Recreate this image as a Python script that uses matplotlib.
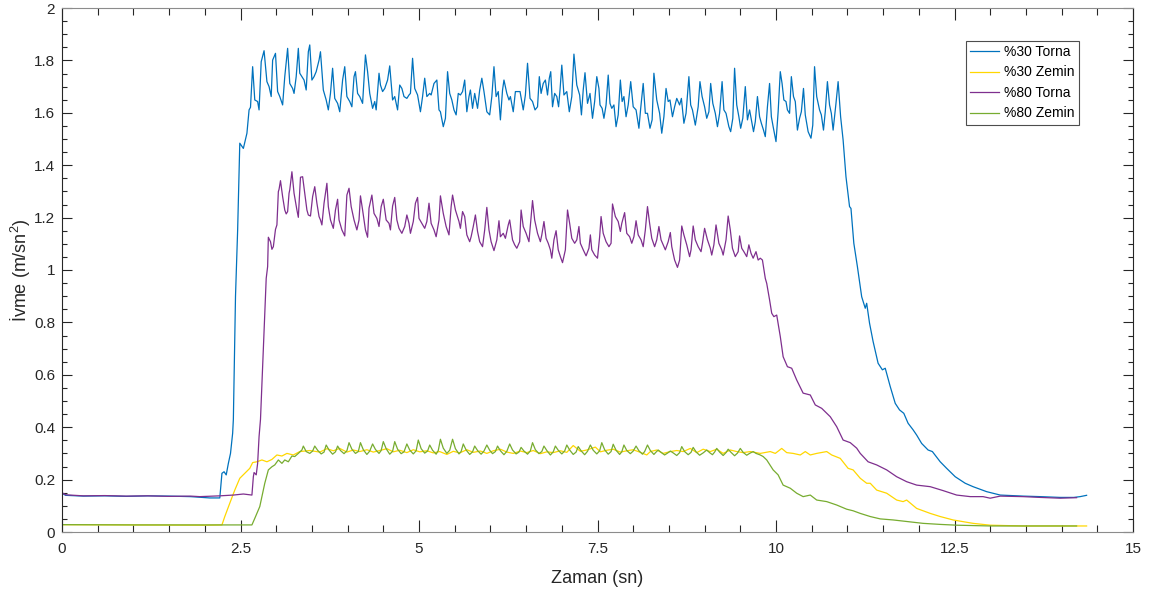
import matplotlib
matplotlib.use("Agg")
import matplotlib.pyplot as plt
from matplotlib.ticker import MultipleLocator, FuncFormatter

plt.rcParams['font.family'] = ['Liberation Sans', 'DejaVu Sans']
plt.rcParams['mathtext.fontset'] = 'custom'
plt.rcParams['mathtext.rm'] = 'Liberation Sans'
plt.rcParams['mathtext.it'] = 'Liberation Sans:italic'

# %30 Torna (acceleration, lathe, 30%)
t_30_torna = [0, 0.05, 0.3, 0.6, 0.9, 1.2, 1.5, 1.8, 2.07, 2.21, 2.24, 2.27, 2.30, 2.33, 2.36, 2.39, 2.40, 2.43,
              2.46, 2.49, 2.54, 2.59, 2.62, 2.64, 2.67, 2.70, 2.74, 2.76, 2.79, 2.83, 2.87, 2.90, 2.93, 2.95, 2.99,
              3.02, 3.05, 3.09, 3.12, 3.16, 3.19, 3.23, 3.25, 3.28, 3.31, 3.33, 3.36, 3.39, 3.42, 3.45, 3.47, 3.50,
              3.53, 3.56, 3.60, 3.62, 3.66, 3.70, 3.73, 3.76, 3.79, 3.82, 3.86, 3.89, 3.93, 3.96, 3.99, 4.03, 4.06,
              4.09, 4.11, 4.14, 4.17, 4.21, 4.25, 4.28, 4.31, 4.35, 4.38, 4.40, 4.44, 4.46, 4.49, 4.52, 4.56, 4.59,
              4.63, 4.66, 4.70, 4.73, 4.76, 4.79, 4.83, 4.86, 4.88, 4.91, 4.94, 4.98, 5.02, 5.05, 5.08, 5.11, 5.15,
              5.17, 5.21, 5.25, 5.28, 5.30, 5.34, 5.37, 5.40, 5.43, 5.46, 5.49, 5.52, 5.55, 5.58, 5.61, 5.64, 5.67,
              5.70, 5.72, 5.75, 5.78, 5.82, 5.85, 5.88, 5.91, 5.95, 5.99, 6.02, 6.05, 6.08, 6.11, 6.14, 6.17, 6.19,
              6.23, 6.26, 6.28, 6.32, 6.35, 6.38, 6.415, 6.46, 6.49, 6.52, 6.555, 6.59, 6.625, 6.66, 6.685, 6.71,
              6.74, 6.77, 6.80, 6.825, 6.845, 6.87, 6.90, 6.93, 6.955, 6.975, 7.00, 7.03, 7.07, 7.105, 7.14, 7.17,
              7.21, 7.25, 7.275, 7.30, 7.325, 7.36, 7.395, 7.43, 7.46, 7.49, 7.52, 7.535, 7.565, 7.59, 7.62, 7.65,
              7.675, 7.70, 7.73, 7.76, 7.79, 7.82, 7.845, 7.87, 7.90, 7.93, 7.965, 8.00, 8.04, 8.08, 8.105, 8.14,
              8.17, 8.20, 8.235, 8.265, 8.29, 8.33, 8.37, 8.40, 8.43, 8.46, 8.49, 8.515, 8.55, 8.58, 8.61, 8.65,
              8.675, 8.71, 8.74, 8.78, 8.805, 8.83, 8.87, 8.91, 8.935, 8.965, 9.00, 9.03, 9.06, 9.085, 9.115, 9.15,
              9.18, 9.21, 9.245, 9.27, 9.30, 9.34, 9.365, 9.395, 9.42, 9.45, 9.48, 9.505, 9.535, 9.57, 9.60, 9.63,
              9.655, 9.685, 9.71, 9.74, 9.77, 9.795, 9.825, 9.85, 9.88, 9.91, 9.935, 9.96, 10.00, 10.03, 10.06,
              10.085, 10.11, 10.14, 10.16, 10.19, 10.215, 10.245, 10.27, 10.30, 10.33, 10.355, 10.385, 10.41, 10.45,
              10.49, 10.515, 10.54, 10.57, 10.61, 10.635, 10.665, 10.69, 10.72, 10.75, 10.775, 10.80, 10.84, 10.87,
              10.905, 10.94, 10.98, 11.03, 11.05, 11.09, 11.14, 11.20, 11.25, 11.27, 11.31, 11.36, 11.43, 11.49,
              11.53, 11.60, 11.67, 11.73, 11.79, 11.85, 11.92, 11.97, 12.04, 12.13, 12.19, 12.30, 12.39, 12.51,
              12.65, 12.76, 12.95, 13.14, 13.46, 13.70, 13.98, 14.17, 14.26, 14.35]
a_30_torna = [0.148, 0.140, 0.137, 0.138, 0.136, 0.138, 0.137, 0.135, 0.130, 0.130, 0.224, 0.230, 0.218, 0.262,
              0.300, 0.377, 0.43, 0.90, 1.153, 1.484, 1.464, 1.522, 1.611, 1.621, 1.776, 1.649, 1.643, 1.611, 1.795,
              1.837, 1.719, 1.700, 1.662, 1.801, 1.827, 1.681, 1.662, 1.630, 1.738, 1.846, 1.712, 1.693, 1.674,
              1.738, 1.846, 1.751, 1.738, 1.725, 1.687, 1.833, 1.859, 1.725, 1.738, 1.757, 1.801, 1.833, 1.687,
              1.649, 1.611, 1.674, 1.770, 1.655, 1.636, 1.604, 1.725, 1.776, 1.662, 1.643, 1.623, 1.738, 1.757,
              1.674, 1.662, 1.636, 1.821, 1.757, 1.674, 1.617, 1.643, 1.611, 1.751, 1.706, 1.681, 1.693, 1.725,
              1.779, 1.649, 1.662, 1.611, 1.706, 1.693, 1.662, 1.655, 1.668, 1.674, 1.808, 1.693, 1.668, 1.604,
              1.662, 1.732, 1.662, 1.674, 1.668, 1.712, 1.725, 1.611, 1.604, 1.547, 1.579, 1.757, 1.674, 1.649,
              1.611, 1.592, 1.674, 1.668, 1.681, 1.725, 1.604, 1.662, 1.687, 1.617, 1.674, 1.617, 1.687, 1.732,
              1.681, 1.604, 1.592, 1.662, 1.776, 1.662, 1.681, 1.573, 1.687, 1.725, 1.674, 1.649, 1.662, 1.604,
              1.681, 1.681, 1.681, 1.611, 1.668, 1.789, 1.655, 1.643, 1.611, 1.623, 1.738, 1.674, 1.712, 1.725,
              1.668, 1.732, 1.757, 1.623, 1.674, 1.662, 1.623, 1.687, 1.782, 1.668, 1.681, 1.604, 1.662, 1.824,
              1.706, 1.668, 1.592, 1.687, 1.753, 1.636, 1.674, 1.579, 1.643, 1.738, 1.693, 1.630, 1.617, 1.579,
              1.630, 1.744, 1.636, 1.617, 1.630, 1.547, 1.592, 1.725, 1.643, 1.662, 1.585, 1.630, 1.719, 1.623,
              1.611, 1.541, 1.617, 1.712, 1.598, 1.598, 1.541, 1.573, 1.751, 1.649, 1.598, 1.522, 1.585, 1.693,
              1.643, 1.649, 1.585, 1.623, 1.655, 1.630, 1.655, 1.560, 1.598, 1.738, 1.630, 1.611, 1.553, 1.623,
              1.719, 1.662, 1.623, 1.579, 1.604, 1.712, 1.636, 1.598, 1.547, 1.598, 1.719, 1.611, 1.598, 1.547,
              1.528, 1.579, 1.770, 1.630, 1.585, 1.541, 1.579, 1.700, 1.573, 1.611, 1.573, 1.528, 1.566, 1.662,
              1.585, 1.560, 1.534, 1.509, 1.623, 1.712, 1.585, 1.547, 1.490, 1.604, 1.757, 1.712, 1.649, 1.643,
              1.611, 1.598, 1.738, 1.662, 1.643, 1.534, 1.579, 1.604, 1.693, 1.592, 1.528, 1.503, 1.553, 1.776,
              1.662, 1.611, 1.592, 1.534, 1.604, 1.719, 1.630, 1.598, 1.534, 1.636, 1.719, 1.585, 1.496, 1.356,
              1.242, 1.235, 1.102, 1.013, 0.898, 0.854, 0.873, 0.797, 0.727, 0.644, 0.619, 0.625, 0.555, 0.491,
              0.466, 0.453, 0.415, 0.390, 0.370, 0.338, 0.313, 0.307, 0.268, 0.243, 0.211, 0.186, 0.173, 0.154,
              0.141, 0.137, 0.135, 0.132, 0.132, 0.135, 0.140]

# %30 Zemin (floor, 30%)
t_30_zemin = [0, 1.0, 2.0, 2.24, 2.28, 2.35, 2.42, 2.49, 2.56, 2.63, 2.67, 2.73, 2.80, 2.87, 2.94, 3.01, 3.08,
              3.15, 3.24, 3.33, 3.47, 3.61, 3.71, 3.80, 3.89, 3.99, 4.08, 4.17, 4.27, 4.36, 4.45, 4.55, 4.64, 4.73,
              4.83, 4.92, 5.01, 5.11, 5.20, 5.29, 5.39, 5.48, 5.57, 5.67, 5.76, 5.86, 5.95, 6.04, 6.14, 6.23, 6.32,
              6.42, 6.51, 6.60, 6.70, 6.79, 6.88, 6.98, 7.07, 7.16, 7.26, 7.35, 7.47, 7.54, 7.63, 7.72, 7.82, 7.91,
              8.00, 8.10, 8.19, 8.24, 8.33, 8.42, 8.52, 8.61, 8.70, 8.80, 8.89, 8.98, 9.08, 9.17, 9.26, 9.36, 9.45,
              9.54, 9.64, 9.78, 9.92, 9.99, 10.08, 10.15, 10.24, 10.34, 10.41, 10.48, 10.57, 10.71, 10.78, 10.90,
              11.01, 11.08, 11.18, 11.27, 11.32, 11.41, 11.55, 11.69, 11.78, 11.83, 11.97, 12.16, 12.30, 12.48,
              12.76, 13.00, 13.46, 14.35]
a_30_zemin = [0.028, 0.027, 0.026, 0.027, 0.059, 0.110, 0.160, 0.205, 0.224, 0.243, 0.265, 0.268, 0.275, 0.268,
              0.277, 0.294, 0.290, 0.300, 0.294, 0.307, 0.311, 0.305, 0.318, 0.310, 0.319, 0.305, 0.313, 0.307,
              0.314, 0.305, 0.311, 0.318, 0.306, 0.312, 0.303, 0.314, 0.306, 0.310, 0.302, 0.307, 0.296, 0.308,
              0.302, 0.314, 0.304, 0.309, 0.300, 0.310, 0.316, 0.305, 0.300, 0.309, 0.303, 0.311, 0.299, 0.306,
              0.303, 0.310, 0.304, 0.330, 0.308, 0.313, 0.324, 0.306, 0.312, 0.316, 0.305, 0.310, 0.314, 0.304,
              0.294, 0.307, 0.313, 0.300, 0.307, 0.311, 0.307, 0.319, 0.303, 0.316, 0.307, 0.316, 0.300, 0.313,
              0.307, 0.303, 0.307, 0.300, 0.307, 0.300, 0.319, 0.303, 0.300, 0.294, 0.307, 0.294, 0.300, 0.307,
              0.294, 0.281, 0.243, 0.237, 0.205, 0.186, 0.186, 0.160, 0.148, 0.122, 0.116, 0.122, 0.090, 0.071,
              0.059, 0.046, 0.033, 0.026, 0.023, 0.023]

# %80 Torna (lathe, 80%)
t_80_torna = [0, 0.05, 0.3, 0.6, 0.9, 1.2, 1.5, 1.8, 1.93, 2.21, 2.40, 2.54, 2.66, 2.68, 2.69, 2.72, 2.74, 2.76,
              2.78, 2.82, 2.86, 2.88, 2.89, 2.92, 2.94, 2.96, 2.99, 3.01, 3.03, 3.04, 3.06, 3.09, 3.12, 3.14, 3.16,
              3.18, 3.19, 3.22, 3.25, 3.29, 3.31, 3.34, 3.37, 3.40, 3.43, 3.45, 3.48, 3.51, 3.54, 3.57, 3.60, 3.62,
              3.64, 3.67, 3.71, 3.73, 3.76, 3.80, 3.83, 3.86, 3.88, 3.92, 3.96, 3.99, 4.02, 4.05, 4.09, 4.13, 4.16,
              4.18, 4.21, 4.25, 4.28, 4.30, 4.34, 4.37, 4.41, 4.44, 4.47, 4.50, 4.54, 4.58, 4.60, 4.63, 4.66, 4.69,
              4.72, 4.76, 4.80, 4.83, 4.86, 4.88, 4.92, 4.95, 4.98, 5.00, 5.04, 5.08, 5.11, 5.14, 5.17, 5.21, 5.24,
              5.28, 5.30, 5.34, 5.38, 5.42, 5.45, 5.47, 5.51, 5.56, 5.58, 5.61, 5.64, 5.67, 5.71, 5.73, 5.76, 5.79,
              5.82, 5.85, 5.89, 5.92, 5.95, 5.98, 6.01, 6.05, 6.09, 6.12, 6.14, 6.18, 6.21, 6.25, 6.27, 6.31, 6.34,
              6.37, 6.41, 6.43, 6.46, 6.50, 6.54, 6.56, 6.59, 6.62, 6.66, 6.70, 6.72, 6.75, 6.78, 6.81, 6.84, 6.86,
              6.89, 6.92, 6.95, 6.98, 7.01, 7.05, 7.08, 7.11, 7.14, 7.18, 7.21, 7.24, 7.26, 7.30, 7.34, 7.38, 7.40,
              7.42, 7.46, 7.50, 7.53, 7.55, 7.58, 7.62, 7.66, 7.69, 7.71, 7.75, 7.79, 7.82, 7.84, 7.88, 7.91, 7.95,
              7.98, 8.01, 8.04, 8.07, 8.11, 8.14, 8.17, 8.20, 8.23, 8.26, 8.30, 8.33, 8.36, 8.39, 8.42, 8.45, 8.49,
              8.52, 8.54, 8.58, 8.62, 8.65, 8.68, 8.71, 8.75, 8.79, 8.81, 8.84, 8.87, 8.91, 8.95, 8.97, 9.00, 9.04,
              9.08, 9.10, 9.13, 9.16, 9.20, 9.24, 9.26, 9.30, 9.33, 9.36, 9.39, 9.43, 9.47, 9.49, 9.52, 9.55, 9.59,
              9.62, 9.65, 9.68, 9.72, 9.75, 9.78, 9.81, 9.85, 9.87, 9.91, 9.94, 9.97, 10.01, 10.06, 10.10, 10.16,
              10.22, 10.29, 10.38, 10.48, 10.55, 10.64, 10.76, 10.85, 10.94, 11.04, 11.13, 11.18, 11.29, 11.41,
              11.55, 11.69, 11.83, 11.97, 12.16, 12.34, 12.53, 12.72, 12.90, 13.00, 13.14, 13.46, 13.70, 13.98, 14.21]
a_80_torna = [0.150, 0.142, 0.138, 0.139, 0.137, 0.138, 0.136, 0.137, 0.135, 0.138, 0.141, 0.145, 0.141, 0.211,
              0.227, 0.218, 0.262, 0.364, 0.43, 0.70, 0.968, 1.013, 1.125, 1.108, 1.079, 1.089, 1.155, 1.172,
              1.299, 1.308, 1.341, 1.280, 1.229, 1.214, 1.223, 1.293, 1.306, 1.375, 1.293, 1.229, 1.201, 1.354,
              1.356, 1.293, 1.229, 1.210, 1.206, 1.280, 1.318, 1.255, 1.204, 1.191, 1.172, 1.255, 1.331, 1.242,
              1.191, 1.159, 1.229, 1.270, 1.191, 1.153, 1.130, 1.286, 1.312, 1.242, 1.191, 1.153, 1.191, 1.283,
              1.229, 1.153, 1.125, 1.236, 1.286, 1.216, 1.197, 1.166, 1.242, 1.270, 1.191, 1.178, 1.153, 1.244,
              1.277, 1.191, 1.159, 1.140, 1.166, 1.210, 1.178, 1.140, 1.185, 1.255, 1.277, 1.197, 1.178, 1.159,
              1.185, 1.255, 1.178, 1.153, 1.127, 1.191, 1.283, 1.216, 1.166, 1.134, 1.242, 1.286, 1.229, 1.185,
              1.159, 1.223, 1.204, 1.134, 1.108, 1.127, 1.166, 1.210, 1.147, 1.108, 1.089, 1.153, 1.239, 1.153,
              1.108, 1.074, 1.115, 1.188, 1.127, 1.140, 1.121, 1.172, 1.191, 1.115, 1.096, 1.083, 1.108, 1.229,
              1.166, 1.140, 1.108, 1.172, 1.265, 1.191, 1.140, 1.108, 1.134, 1.185, 1.121, 1.102, 1.077, 1.045,
              1.115, 1.150, 1.077, 1.051, 1.028, 1.077, 1.229, 1.178, 1.121, 1.102, 1.115, 1.166, 1.102, 1.077,
              1.054, 1.083, 1.134, 1.077, 1.057, 1.045, 1.127, 1.204, 1.140, 1.108, 1.089, 1.102, 1.252, 1.204,
              1.185, 1.147, 1.178, 1.219, 1.140, 1.127, 1.102, 1.127, 1.188, 1.134, 1.115, 1.089, 1.153, 1.242,
              1.178, 1.121, 1.089, 1.115, 1.166, 1.115, 1.096, 1.077, 1.108, 1.143, 1.089, 1.038, 1.010, 1.038,
              1.168, 1.134, 1.096, 1.051, 1.077, 1.168, 1.115, 1.089, 1.070, 1.102, 1.159, 1.115, 1.083, 1.057,
              1.096, 1.172, 1.102, 1.077, 1.057, 1.115, 1.206, 1.153, 1.083, 1.051, 1.070, 1.130, 1.083, 1.070,
              1.051, 1.096, 1.064, 1.045, 1.070, 1.038, 1.045, 1.038, 0.968, 0.949, 0.886, 0.835, 0.822, 0.828,
              0.746, 0.669, 0.631, 0.625, 0.580, 0.530, 0.523, 0.485, 0.472, 0.440, 0.402, 0.351, 0.341, 0.320,
              0.300, 0.268, 0.256, 0.237, 0.211, 0.192, 0.179, 0.173, 0.158, 0.141, 0.135, 0.135, 0.129, 0.137,
              0.135, 0.132, 0.129, 0.131]

# %80 Zemin (floor, 80%)
t_80_zemin = [0, 1.0, 2.0, 2.66, 2.70, 2.77, 2.84, 2.89, 2.94, 2.98, 3.03, 3.08, 3.12, 3.17, 3.22, 3.26, 3.31,
              3.36, 3.38, 3.42, 3.47, 3.51, 3.54, 3.58, 3.63, 3.67, 3.70, 3.74, 3.79, 3.83, 3.86, 3.90, 3.95, 3.99,
              4.02, 4.06, 4.11, 4.15, 4.18, 4.22, 4.27, 4.31, 4.35, 4.39, 4.44, 4.47, 4.50, 4.54, 4.59, 4.63, 4.66,
              4.70, 4.75, 4.79, 4.83, 4.87, 4.92, 4.96, 4.99, 5.03, 5.08, 5.12, 5.15, 5.19, 5.24, 5.27, 5.30, 5.34,
              5.39, 5.43, 5.47, 5.51, 5.56, 5.59, 5.62, 5.66, 5.71, 5.75, 5.78, 5.82, 5.87, 5.91, 5.95, 5.99, 6.03,
              6.07, 6.10, 6.14, 6.19, 6.23, 6.27, 6.31, 6.36, 6.40, 6.43, 6.47, 6.52, 6.56, 6.59, 6.63, 6.68, 6.72,
              6.75, 6.79, 6.84, 6.88, 6.91, 6.95, 7.00, 7.04, 7.07, 7.11, 7.16, 7.20, 7.23, 7.27, 7.32, 7.36, 7.40,
              7.44, 7.49, 7.53, 7.56, 7.60, 7.65, 7.69, 7.72, 7.76, 7.81, 7.84, 7.87, 7.91, 7.96, 8.00, 8.04, 8.08,
              8.13, 8.16, 8.20, 8.24, 8.29, 8.32, 8.35, 8.39, 8.44, 8.48, 8.52, 8.56, 8.61, 8.65, 8.68, 8.72, 8.77,
              8.81, 8.84, 8.88, 8.93, 8.98, 9.03, 9.07, 9.11, 9.14, 9.17, 9.21, 9.26, 9.30, 9.33, 9.37, 9.42, 9.46,
              9.50, 9.54, 9.59, 9.63, 9.68, 9.72, 9.78, 9.82, 9.87, 9.96, 10.03, 10.10, 10.20, 10.29, 10.38, 10.48,
              10.57, 10.71, 10.85, 10.99, 11.08, 11.18, 11.32, 11.46, 11.64, 11.83, 12.06, 12.30, 12.53, 13.00, 14.21]
a_80_zemin = [0.028, 0.027, 0.027, 0.027, 0.052, 0.097, 0.186, 0.237, 0.249, 0.256, 0.275, 0.262, 0.275, 0.268,
              0.290, 0.288, 0.300, 0.313, 0.328, 0.307, 0.300, 0.309, 0.328, 0.312, 0.298, 0.305, 0.332, 0.313,
              0.297, 0.306, 0.328, 0.311, 0.299, 0.310, 0.341, 0.316, 0.300, 0.307, 0.341, 0.314, 0.296, 0.309,
              0.336, 0.315, 0.300, 0.311, 0.345, 0.318, 0.297, 0.308, 0.345, 0.316, 0.299, 0.306, 0.336, 0.313,
              0.298, 0.310, 0.351, 0.318, 0.301, 0.309, 0.332, 0.312, 0.297, 0.311, 0.354, 0.320, 0.300, 0.312,
              0.354, 0.318, 0.298, 0.307, 0.336, 0.313, 0.296, 0.306, 0.328, 0.311, 0.297, 0.309, 0.332, 0.312,
              0.299, 0.307, 0.328, 0.310, 0.295, 0.308, 0.336, 0.313, 0.298, 0.305, 0.323, 0.309, 0.297, 0.310,
              0.341, 0.314, 0.299, 0.307, 0.328, 0.311, 0.294, 0.306, 0.328, 0.312, 0.298, 0.309, 0.332, 0.313,
              0.296, 0.305, 0.326, 0.310, 0.295, 0.308, 0.332, 0.312, 0.298, 0.310, 0.341, 0.314, 0.297, 0.307,
              0.335, 0.312, 0.296, 0.306, 0.332, 0.311, 0.299, 0.309, 0.328, 0.310, 0.297, 0.307, 0.332, 0.311,
              0.296, 0.305, 0.313, 0.304, 0.294, 0.301, 0.309, 0.302, 0.292, 0.303, 0.326, 0.307, 0.295, 0.304,
              0.323, 0.306, 0.293, 0.302, 0.313, 0.303, 0.295, 0.305, 0.319, 0.305, 0.292, 0.303, 0.316, 0.304,
              0.291, 0.301, 0.319, 0.304, 0.293, 0.300, 0.307, 0.300, 0.294, 0.288, 0.275, 0.237, 0.218, 0.179,
              0.167, 0.148, 0.135, 0.141, 0.122, 0.116, 0.103, 0.087, 0.081, 0.071, 0.059, 0.050, 0.046, 0.040,
              0.033, 0.029, 0.026, 0.023, 0.023]

series_names = ['%30 Torna', '%30 Zemin', '%80 Torna', '%80 Zemin']
series_colors = ['#0072BD', '#FFD700', '#7E2F8E', '#77AC30']

fig = plt.figure(figsize=(11.5, 5.94), dpi=100)
ax = fig.add_axes([62 / 1150, 1 - 532 / 594, 1071 / 1150, 524 / 594])

all_t = [t_30_torna, t_30_zemin, t_80_torna, t_80_zemin]
all_a = [a_30_torna, a_30_zemin, a_80_torna, a_80_zemin]
for t, a, name, c in zip(all_t, all_a, series_names, series_colors):
    ax.plot(t, a, color=c, lw=0.9, label=name)

ax.set_xlim(0, 15)
ax.set_ylim(0, 2)
ax.xaxis.set_major_locator(MultipleLocator(2.5))
ax.xaxis.set_minor_locator(MultipleLocator(0.5))
ax.yaxis.set_major_locator(MultipleLocator(0.2))
ax.yaxis.set_minor_locator(MultipleLocator(0.05))
fmt = FuncFormatter(lambda v, p: '%g' % round(v, 3))
ax.xaxis.set_major_formatter(fmt)
ax.yaxis.set_major_formatter(fmt)

ax.tick_params(which='both', direction='in', top=True, right=True, colors='#262626',
               labelsize=11, width=0.8)
ax.tick_params(axis='x', which='major', length=8.5, pad=7)
ax.tick_params(axis='x', which='minor', length=5)
ax.tick_params(axis='y', which='major', length=7, pad=5)
ax.tick_params(axis='y', which='minor', length=3.6)

for side in ['top', 'bottom']:
    ax.spines[side].set_color('#8c8c8c')
for side in ['left', 'right']:
    ax.spines[side].set_color('#262626')
for s in ax.spines.values():
    s.set_linewidth(0.8)

ax.set_xlabel('Zaman (sn)', fontsize=13, color='#262626', labelpad=10)
ax.set_ylabel('İvme (m/sn$^{2}$)', fontsize=13, color='#262626', labelpad=1)

# legend box sits near the top right corner
leg = ax.legend(loc='upper left', bbox_to_anchor=(0.844, 0.9376), fontsize=10, frameon=True,
                fancybox=False, framealpha=1, edgecolor='#4d4d4d', handlelength=2.1,
                handletextpad=0.36, labelspacing=0.47, borderpad=0.3, borderaxespad=0)
leg.get_frame().set_linewidth(0.8)

fig.savefig('out.png', dpi=100)
